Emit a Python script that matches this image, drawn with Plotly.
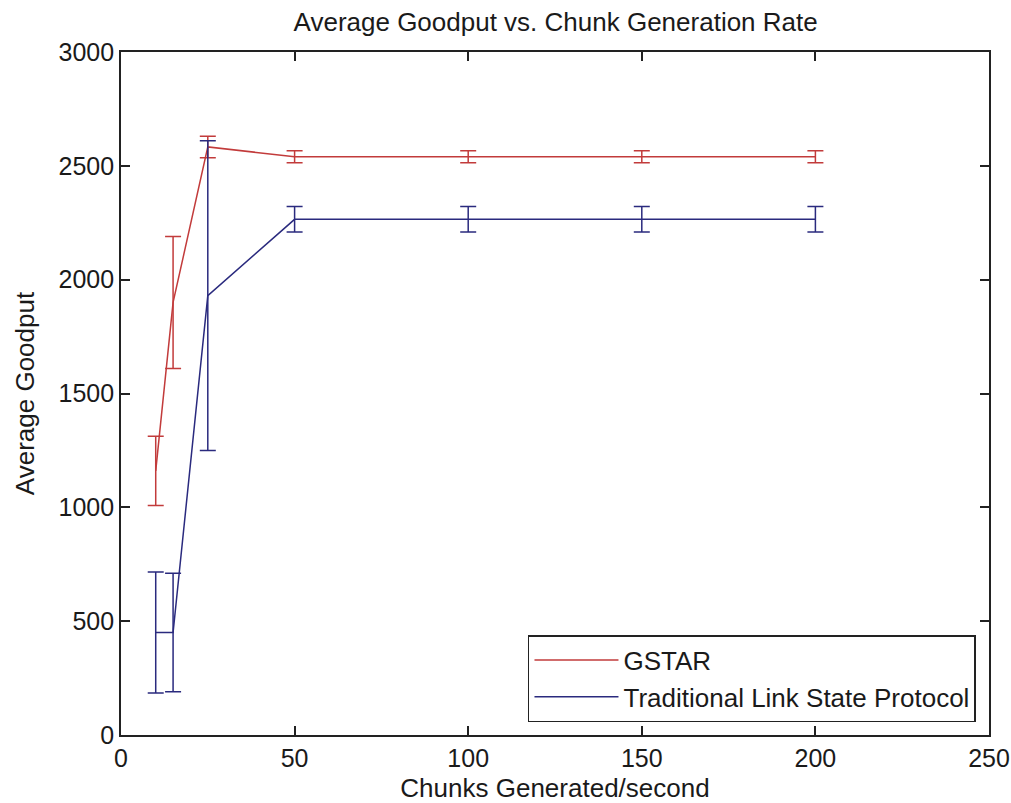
import plotly.graph_objects as go

chunks = [10, 15, 25, 50, 100, 150, 200]
gstar_mean = [1160, 1900, 2583, 2540, 2540, 2540, 2540]
gstar_err = [152, 290, 47, 26, 26, 26, 26]
tlsp_mean = [450, 450, 1930, 2265, 2265, 2265, 2265]
tlsp_err = [266, 260, 680, 56, 56, 56, 56]

red = "#c23b3b"
blue = "#2a2a7e"
font = "Liberation Sans, Arial, sans-serif"

fig = go.Figure()
fig.add_trace(go.Scatter(
    x=chunks, y=gstar_mean, mode="lines", name="GSTAR",
    line=dict(color=red, width=1.5),
    error_y=dict(type="data", array=gstar_err, visible=True, color=red, thickness=1.5, width=8),
))
fig.add_trace(go.Scatter(
    x=chunks, y=tlsp_mean, mode="lines", name="Traditional Link State Protocol",
    line=dict(color=blue, width=1.5),
    error_y=dict(type="data", array=tlsp_err, visible=True, color=blue, thickness=1.5, width=8),
))

axis_common = dict(
    showgrid=False, zeroline=False, showline=True, linecolor="#222", linewidth=1.6,
    mirror="ticks", ticks="inside", ticklen=9, tickwidth=1.5, tickcolor="#222",
    tickfont=dict(family=font, size=25, color="#1a1a1a"),
    ticklabeloverflow="allow", automargin=False,
)
fig.update_xaxes(range=[0, 250], tickvals=[0, 50, 100, 150, 200, 250],
                 title=dict(text="Chunks Generated/second", font=dict(family=font, size=26, color="#1a1a1a"), standoff=9),
                 **axis_common)
fig.update_yaxes(range=[0, 3000], tickvals=[0, 500, 1000, 1500, 2000, 2500, 3000],
                 title=dict(text="Average Goodput", font=dict(family=font, size=26, color="#1a1a1a"), standoff=16),
                 **axis_common)

fig.update_layout(
    width=1011, height=803,
    margin=dict(l=121, r=22, t=52, b=68),
    paper_bgcolor="white", plot_bgcolor="white",
    title=dict(text="Average Goodput vs. Chunk Generation Rate", x=0.5496, xanchor="center",
               y=0.973, yanchor="middle", font=dict(family=font, size=26, color="#1a1a1a")),
    legend=dict(x=0.985, y=0.019, xanchor="right", yanchor="bottom",
                bgcolor="white", bordercolor="#222", borderwidth=1.5,
                font=dict(family=font, size=26, color="#1a1a1a"),
                itemwidth=84, tracegroupgap=0),
    showlegend=True,
)

fig.write_html(
    "out.html",
    config={"displayModeBar": False},
    post_script="document.body.style.margin='0';document.body.style.overflow='hidden';",
)
